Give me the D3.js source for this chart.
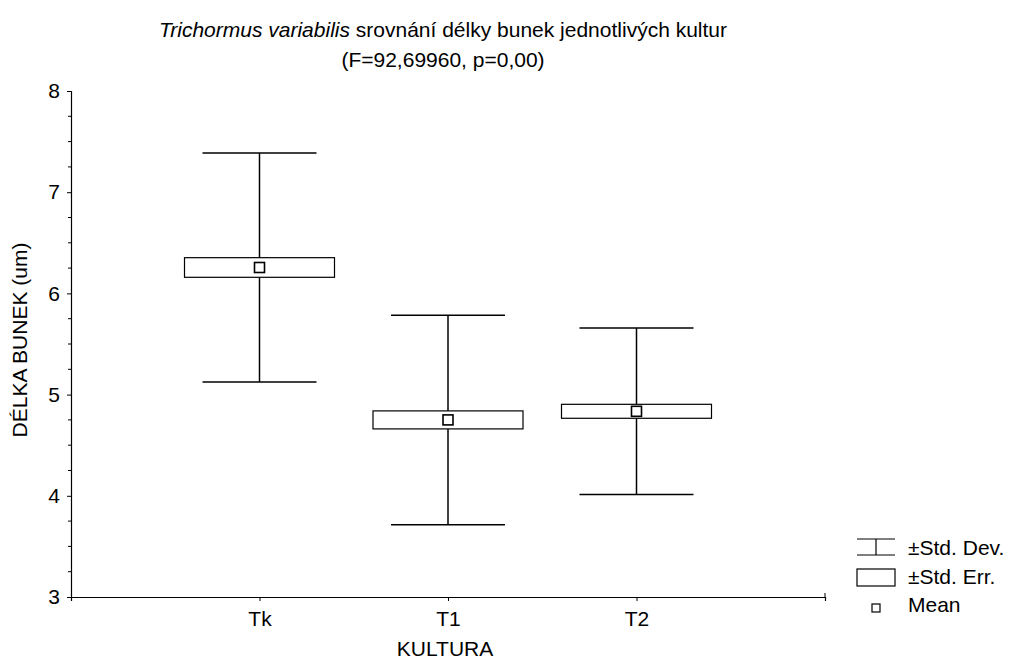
<!DOCTYPE html>
<html>
<head>
<meta charset="UTF-8">
<title>Trichormus variabilis</title>
<script src="https://cdn.jsdelivr.net/npm/d3@7"></script>
<style>
body { margin: 0; background: #fff; }
svg text { font-family: "Liberation Sans", Arial, sans-serif; fill: #000; }
</style>
</head>
<body>
<script>
// data
var kultury = ["Tk", "T1", "T2"];
var prumer = [6.256, 4.750, 4.835];     // Mean
var smOdch = [1.132, 1.035, 0.823];     // Std. Dev.
var smChyba = [0.097, 0.089, 0.069];    // Std. Err.
var yTicks = [3, 4, 5, 6, 7, 8];

var w = 1011, h = 663;
var pLeft = 71, pRight = 825, pTop = 91, pBottom = 597;
var fs = 21;

var svg = d3.select("body").append("svg")
  .attr("width", w).attr("height", h);

var x = d3.scalePoint().domain(kultury).range([pLeft, pRight]).padding(1);
var y = d3.scaleLinear().domain([3, 8]).range([pBottom, pTop]);

var data = kultury.map(function(k, i) {
  return {k: k, m: prumer[i], sd: smOdch[i], se: smChyba[i]};
});

// axes
var yAxis = svg.append("g").attr("transform", "translate(" + pLeft + ",0)")
  .call(d3.axisLeft(y).tickValues(yTicks).tickSize(4).tickPadding(7).tickFormat(d3.format("d")));
yAxis.selectAll(".tick text").attr("font-size", fs);
// minor ticks
svg.append("g").selectAll("line")
  .data(d3.range(3, 8.01, 0.25).filter(function(v) { return v % 1 !== 0; }))
  .enter().append("line")
  .attr("x1", pLeft - 3).attr("x2", pLeft)
  .attr("y1", function(d) { return y(d); }).attr("y2", function(d) { return y(d); })
  .attr("stroke", "#000");

var xAxis = svg.append("g").attr("transform", "translate(0," + pBottom + ")")
  .call(d3.axisBottom(x).tickSize(4).tickPadding(10));
xAxis.selectAll(".tick text").attr("font-size", fs);
svg.append("line").attr("x1", pRight).attr("x2", pRight)
  .attr("y1", pBottom - 4).attr("y2", pBottom).attr("stroke", "#000");
svg.selectAll(".domain").attr("stroke", "#000").attr("stroke-width", 1.2);

// whiskers (SD)
var cap = 57, box = 75;
var g = svg.append("g").attr("stroke", "#000").attr("stroke-width", 1.5).attr("fill", "none");
g.selectAll(".vert").data(data).enter().append("line")
  .attr("x1", function(d) { return x(d.k); }).attr("x2", function(d) { return x(d.k); })
  .attr("y1", function(d) { return y(d.m + d.sd); }).attr("y2", function(d) { return y(d.m - d.sd); });
g.selectAll(".capTop").data(data).enter().append("line")
  .attr("x1", function(d) { return x(d.k) - cap; }).attr("x2", function(d) { return x(d.k) + cap; })
  .attr("y1", function(d) { return y(d.m + d.sd); }).attr("y2", function(d) { return y(d.m + d.sd); });
g.selectAll(".capBot").data(data).enter().append("line")
  .attr("x1", function(d) { return x(d.k) - cap; }).attr("x2", function(d) { return x(d.k) + cap; })
  .attr("y1", function(d) { return y(d.m - d.sd); }).attr("y2", function(d) { return y(d.m - d.sd); });

// SE boxes
g.selectAll("rect.se").data(data).enter().append("rect")
  .attr("x", function(d) { return x(d.k) - box; })
  .attr("width", 2 * box)
  .attr("y", function(d) { return y(d.m + d.se); })
  .attr("height", function(d) { return y(d.m - d.se) - y(d.m + d.se); })
  .attr("fill", "#fff").attr("stroke-width", 1.2);

// mean squares
g.selectAll("rect.mean").data(data).enter().append("rect")
  .attr("x", function(d) { return x(d.k) - 5; })
  .attr("y", function(d) { return y(d.m) - 5; })
  .attr("width", 10).attr("height", 10)
  .attr("fill", "#fff").attr("stroke-width", 1.6);

// titles
var t = svg.append("text").attr("x", 443).attr("y", 37).attr("text-anchor", "middle").attr("font-size", fs);
t.append("tspan").attr("font-style", "italic").text("Trichormus variabilis");
t.append("tspan").text(" srovnání délky bunek jednotlivých kultur");
svg.append("text").attr("x", 443).attr("y", 67).attr("text-anchor", "middle").attr("font-size", fs)
  .text("(F=92,69960, p=0,00)");

svg.append("text").attr("x", 445).attr("y", 656).attr("text-anchor", "middle").attr("font-size", fs)
  .text("KULTURA");
svg.append("text").attr("transform", "translate(27,340) rotate(-90)").attr("text-anchor", "middle")
  .attr("font-size", fs).text("DÉLKA BUNEK (um)");

// legend
var lg = svg.append("g").attr("stroke", "#000").attr("fill", "none").attr("stroke-width", 1.2);
lg.append("line").attr("x1", 857).attr("x2", 895).attr("y1", 539).attr("y2", 539);
lg.append("line").attr("x1", 857).attr("x2", 895).attr("y1", 555).attr("y2", 555);
lg.append("line").attr("x1", 876).attr("x2", 876).attr("y1", 539).attr("y2", 555);
lg.append("rect").attr("x", 857).attr("y", 569).attr("width", 38).attr("height", 17);
lg.append("rect").attr("x", 872).attr("y", 604).attr("width", 8).attr("height", 8);
var lt = ["±Std. Dev.", "±Std. Err.", "Mean"];
svg.selectAll("text.lg").data(lt).enter().append("text")
  .attr("x", 908).attr("y", function(d, i) { return 555 + i * 28.5; })
  .attr("font-size", fs).text(function(d) { return d; });
</script>
</body>
</html>
